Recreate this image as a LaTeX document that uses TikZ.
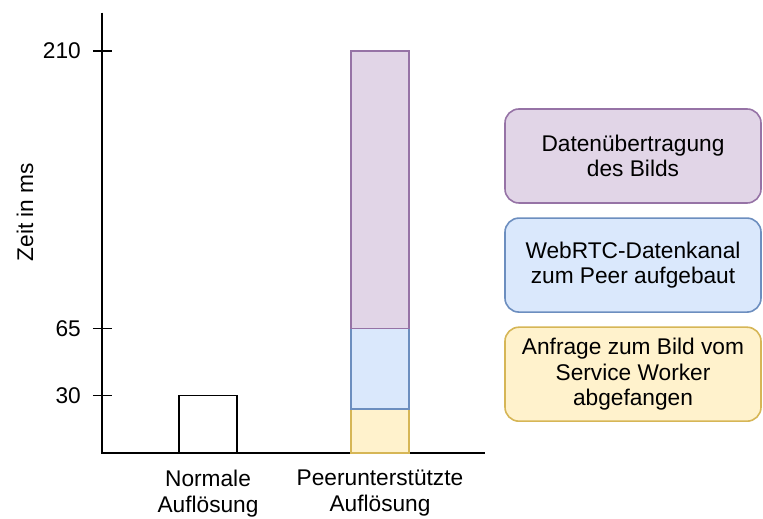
\documentclass[tikz,border=0pt]{standalone}
\usepackage{fontspec}
\setmainfont{Liberation Sans}
\usetikzlibrary{positioning}
\definecolor{lilaFill}{HTML}{E1D5E7}
\definecolor{lilaDraw}{HTML}{9673A6}
\definecolor{blauFill}{HTML}{DAE8FC}
\definecolor{blauDraw}{HTML}{6C8EBF}
\definecolor{gelbFill}{HTML}{FFF2CC}
\definecolor{gelbDraw}{HTML}{D6B656}
\tikzstyle{achse} = [line width=1.9pt, draw=black]
\tikzstyle{balken} = [line width=1.6pt]
\tikzstyle{wert} = [anchor=east, inner sep=0pt]
\tikzstyle{kategorie} = [anchor=north, align=center, inner sep=0pt]
\tikzstyle{legendBox} = [shape=rectangle, rounded corners=14pt, line width=1.6pt,
	align=center, text=black, minimum width=256pt, minimum height=94pt]
\tikzstyle{LilaBox} = [legendBox, draw=lilaDraw, fill=lilaFill]
\tikzstyle{BlauBox} = [legendBox, draw=blauDraw, fill=blauFill]
\tikzstyle{GelbBox} = [legendBox, draw=gelbDraw, fill=gelbFill]

\begin{document}
\begin{tikzpicture}[x=1pt, y=1.915pt, node distance=13.5pt,
	font=\fontsize{22.7}{25.5}\selectfont]
  \useasboundingbox (-102pt,-66pt) rectangle (661pt,453pt);

  % Achsen mit Skala
  \draw[achse] (0,230) -- (0,0) -- (383,0);
  \foreach \t in {30,65,210} {
    \draw[achse] (-9,\t) -- (10,\t);
    \node[wert] (tick\t) at (-21,\t) {\t};
  }
  \node[rotate=90] (zeit) at (-77pt,241pt) {Zeit in ms};

  % Balken
  \draw[balken, draw=black, fill=white] (77,0) rectangle (135,30);
  \draw[balken, draw=gelbDraw, fill=gelbFill] (249,0) rectangle (307,23);
  \draw[balken, draw=blauDraw, fill=blauFill] (249,23) rectangle (307,65);
  \draw[balken, draw=lilaDraw, fill=lilaFill] (249,65) rectangle (307,210);

  \node (normal) [kategorie] at (106pt,-17pt) {Normale\\Auflösung};
  \node (peer) [kategorie] at (278pt,-17pt) {Peerunterstützte\\Auflösung};

  % Legende
  \node (daten) [LilaBox] at (531pt,297pt) {Datenübertragung\\des Bilds};
  \node (kanal) [BlauBox, below=of daten] {WebRTC-Datenkanal\\zum Peer aufgebaut};
  \node (anfrage) [GelbBox, below=of kanal] {Anfrage zum Bild vom\\Service Worker\\abgefangen};

\end{tikzpicture}
\end{document}
